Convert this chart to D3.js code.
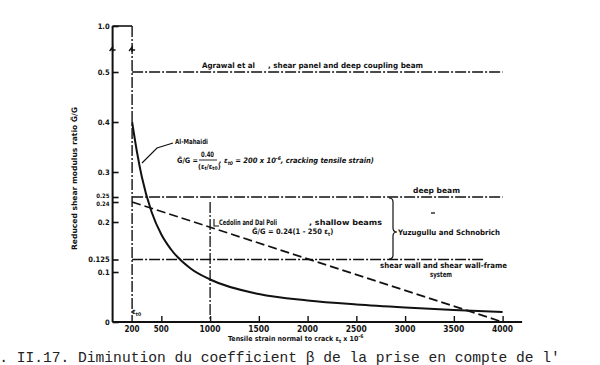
<!DOCTYPE html>
<html><head><meta charset="utf-8">
<script src="https://cdn.jsdelivr.net/npm/d3@7"></script>
<style>
body{margin:0;background:#fff;}
svg{display:block;}
.t{font-family:"DejaVu Sans Condensed","DejaVu Sans",sans-serif;font-weight:bold;fill:#111;}
</style></head><body>
<svg id="c" width="600" height="365"></svg>
<script>
// ---- data ----
const xTicks = [200, 500, 1000, 1500, 2000, 2500, 3000, 3500, 4000];
const yTicks = [0, 0.1, 0.125, 0.2, 0.24, 0.25, 0.3, 0.4, 0.5, 1.0];
const yTickLabels = ["0", "0.1", "0.125", "0.2", "0.24", "0.25", "0.3", "0.4", "0.5", "1.0"];
const mahaidiEps = [200, 250, 300, 400, 500, 600, 800, 1000, 1500, 2000, 2500, 3000, 3500, 4000];
const mahaidiVal = [0.40, 0.34, 0.29, 0.22, 0.175, 0.145, 0.107, 0.085, 0.056, 0.043, 0.035, 0.029, 0.024, 0.020];
const cedolinEps = [200, 4000];
const cedolinVal = [0.24, 0];
const levelVals = [0.5, 0.25, 0.125];
const levelEnds = [4000, 4000, 3800];
const epsT0 = 200;
const markerEps = 1000;
const markerTop = 0.24;

// ---- scales ----
const svg = d3.select("#c");
const x = d3.scaleLinear().domain([0, 4000]).range([112.6, 502.6]);
const y = d3.scaleLinear().domain([0, 0.5, 1.0]).range([322, 72, 26]);
const ink = "#111";
const dashDot = "11,2,2,2";

// axes
const yAxis = d3.axisRight(y).tickValues(yTicks).tickSize(6).tickFormat("");
const gy = svg.append("g").attr("transform", `translate(${x(0)},0)`).call(yAxis);
gy.select(".domain").remove();
gy.selectAll("line").attr("stroke", ink).attr("stroke-width", 1.6);
svg.append("line").attr("x1", x(0)).attr("x2", x(0)).attr("y1", y(1.0)).attr("y2", y(0))
  .attr("stroke", ink).attr("stroke-width", 2);
svg.selectAll(".ylab").data(yTicks).enter().append("text").attr("class", "t")
  .attr("x", x(0) - 3)
  .attr("y", d => y(d) + (d === 0.25 ? 1 : d === 0.24 ? 4 : 2.5))
  .attr("text-anchor", "end")
  .attr("font-size", d => (d === 0.25 || d === 0.24) ? 6 : 7.5)
  .text((d, i) => yTickLabels[i]);

const xAxis = d3.axisTop(x).tickValues(xTicks.filter(d => d !== epsT0)).tickSize(6).tickFormat("");
const gx = svg.append("g").attr("transform", `translate(0,${y(0)})`).call(xAxis);
gx.select(".domain").remove();
gx.selectAll("line").attr("stroke", ink).attr("stroke-width", 1.4);
svg.append("line").attr("x1", x(0)).attr("x2", x(4200)).attr("y1", y(0)).attr("y2", y(0))
  .attr("stroke", ink).attr("stroke-width", 2);
svg.selectAll(".xlab").data(xTicks).enter().append("text").attr("class", "t")
  .attr("x", d => x(d)).attr("y", y(0) + 9.5).attr("text-anchor", "middle")
  .attr("font-size", 8).attr("textLength", d => d >= 1000 ? 21 : 15).attr("lengthAdjust", "spacingAndGlyphs")
  .text(d => d);

// top connector and eps_t0 vertical
svg.append("line").attr("x1", x(0)).attr("x2", x(epsT0)).attr("y1", y(1.0)).attr("y2", y(1.0))
  .attr("stroke", ink).attr("stroke-width", 1.6);
svg.append("line").attr("x1", x(epsT0)).attr("x2", x(epsT0)).attr("y1", y(1.0)).attr("y2", y(0))
  .attr("stroke", ink).attr("stroke-width", 1.4).attr("stroke-dasharray", dashDot);
// break marks
[x(0), x(epsT0)].forEach(px => {
  svg.append("path").attr("d", `M${px-3},${y(0.75)+2} L${px},${y(0.75)-2} L${px},${y(0.75)+3} M${px-1},${y(0.75)+1} L${px+3},${y(0.75)+1}`)
    .attr("fill", "none").attr("stroke", ink).attr("stroke-width", 1.3);
});

// horizontal dash-dot levels
svg.selectAll(".lvl").data(levelVals).enter().append("line")
  .attr("x1", x(epsT0)).attr("x2", (d, i) => x(levelEnds[i]))
  .attr("y1", d => y(d)).attr("y2", d => y(d))
  .attr("stroke", ink).attr("stroke-width", 1.5).attr("stroke-dasharray", dashDot);

// vertical marker at 1000
svg.append("line").attr("x1", x(markerEps)).attr("x2", x(markerEps)).attr("y1", y(markerTop)).attr("y2", y(0))
  .attr("stroke", ink).attr("stroke-width", 1.3).attr("stroke-dasharray", dashDot);

// Cedolin dashed
svg.append("path").datum(cedolinEps.map((e, i) => [e, cedolinVal[i]]))
  .attr("d", d3.line().x(d => x(d[0])).y(d => y(d[1])))
  .attr("fill", "none").attr("stroke", ink).attr("stroke-width", 1.7).attr("stroke-dasharray", "9,4");

// Al-Mahaidi curve
svg.append("path").datum(mahaidiEps.map((e, i) => [e, mahaidiVal[i]]))
  .attr("d", d3.line().curve(d3.curveMonotoneX).x(d => x(d[0])).y(d => y(d[1])))
  .attr("fill", "none").attr("stroke", ink).attr("stroke-width", 2);

// ---- annotations ----
function txt(px, py, s, size, opts = {}) {
  const t = svg.append("text").attr("class", "t").attr("x", px).attr("y", py).attr("font-size", size).text(s);
  if (opts.len) t.attr("textLength", opts.len).attr("lengthAdjust", "spacingAndGlyphs");
  if (opts.anchor) t.attr("text-anchor", opts.anchor);
  if (opts.italic) t.attr("font-style", "italic");
  return t;
}
txt(202, 68, "Agrawal et al", 7.5, {len: 53});
txt(268, 68, ", shear panel and deep coupling beam", 7.5, {len: 155});

// Al-Mahaidi
svg.append("path").attr("d", "M142,163 L157,148 L173,143").attr("fill", "none").attr("stroke", ink).attr("stroke-width", 1.2);
txt(175, 144, "Al-Mahaidi", 7, {len: 33});
txt(177, 163, "G\u0303/G =", 7.5, {len: 21});
txt(201, 157, "0.40", 7.5, {len: 13});
svg.append("line").attr("x1", 199).attr("x2", 217).attr("y1", 160).attr("y2", 160).attr("stroke", ink).attr("stroke-width", 0.9);
const den = svg.append("text").attr("class", "t").attr("x", 198).attr("y", 168.5).attr("font-size", 7);
den.append("tspan").text("(\u03b5");
den.append("tspan").attr("font-size", 5).attr("dy", 1.5).text("t");
den.append("tspan").attr("dy", -1.5).text("/\u03b5");
den.append("tspan").attr("font-size", 5).attr("dy", 1.5).text("t0");
den.append("tspan").attr("dy", -1.5).text(")");
const fm = svg.append("text").attr("class", "t").attr("x", 219).attr("y", 163).attr("font-size", 7.5).attr("font-style", "italic");
fm.append("tspan").text(",  \u03b5");
fm.append("tspan").attr("font-size", 5).attr("dy", 1.5).text("t0");
fm.append("tspan").attr("dy", -1.5).text(" = 200 x 10");
fm.append("tspan").attr("font-size", 5).attr("dy", -3).text("-6");
fm.append("tspan").attr("dy", 3).text(", cracking tensile strain)");

txt(413, 193, "deep beam", 7.5, {len: 47});
svg.append("line").attr("x1", 431).attr("x2", 435).attr("y1", 213).attr("y2", 213).attr("stroke", ink).attr("stroke-width", 1.3);
svg.append("path").attr("d", "M389,198 Q393,198 393,202 L393,228 Q393,232 397,232 Q393,232 393,236 L393,255 Q393,259 389,259")
  .attr("fill", "none").attr("stroke", ink).attr("stroke-width", 1.2);
txt(398, 235, "Yuzugullu and Schnobrich", 7.5, {len: 102});
txt(380, 268, "shear wall and shear wall-frame", 7.5, {len: 127});
txt(441, 277, "system", 7.5, {len: 22, anchor: "middle"});

svg.append("path").attr("d", "M214,219 L214,226 L219,226").attr("fill", "none").attr("stroke", ink).attr("stroke-width", 1.1);
txt(219, 225, "Cedolin and Dal Poli", 7.5, {len: 58});
txt(309, 225, ", shallow beams", 7.5, {len: 73});
const cf = svg.append("text").attr("class", "t").attr("x", 252).attr("y", 234).attr("font-size", 7.5);
cf.append("tspan").text("G\u0303/G = 0.24(1 - 250 \u03b5");
cf.append("tspan").attr("font-size", 5).attr("dy", 1.5).text("t");
cf.append("tspan").attr("dy", -1.5).text(")");

const et = svg.append("text").attr("class", "t").attr("x", 132).attr("y", 314).attr("font-size", 7.5);
et.append("tspan").text("\u03b5");
et.append("tspan").attr("font-size", 5).attr("dy", 1.5).text("t0");

// axis titles
const xt = svg.append("text").attr("class", "t").attr("x", 228).attr("y", 341).attr("font-size", 7);
xt.append("tspan").text("Tensile strain normal to crack \u03b5");
xt.append("tspan").attr("font-size", 5).attr("dy", 1.5).text("t");
xt.append("tspan").attr("dy", -1.5).text(" x 10");
xt.append("tspan").attr("font-size", 5).attr("dy", -3).text("-6");

svg.append("text").attr("class", "t").attr("transform", "translate(77,250) rotate(-90)")
  .attr("font-size", 7.5).attr("textLength", 143).attr("lengthAdjust", "spacingAndGlyphs")
  .text("Reduced shear modulus ratio G\u0303/G");

// caption
svg.append("text").attr("x", -27).attr("y", 362).attr("font-family", "Liberation Mono, monospace")
  .attr("font-size", 14.6).attr("fill", "#222")
  .text("Fig. II.17. Diminution du coefficient \u03b2 de la prise en compte de l'");
</script>
</body></html>
